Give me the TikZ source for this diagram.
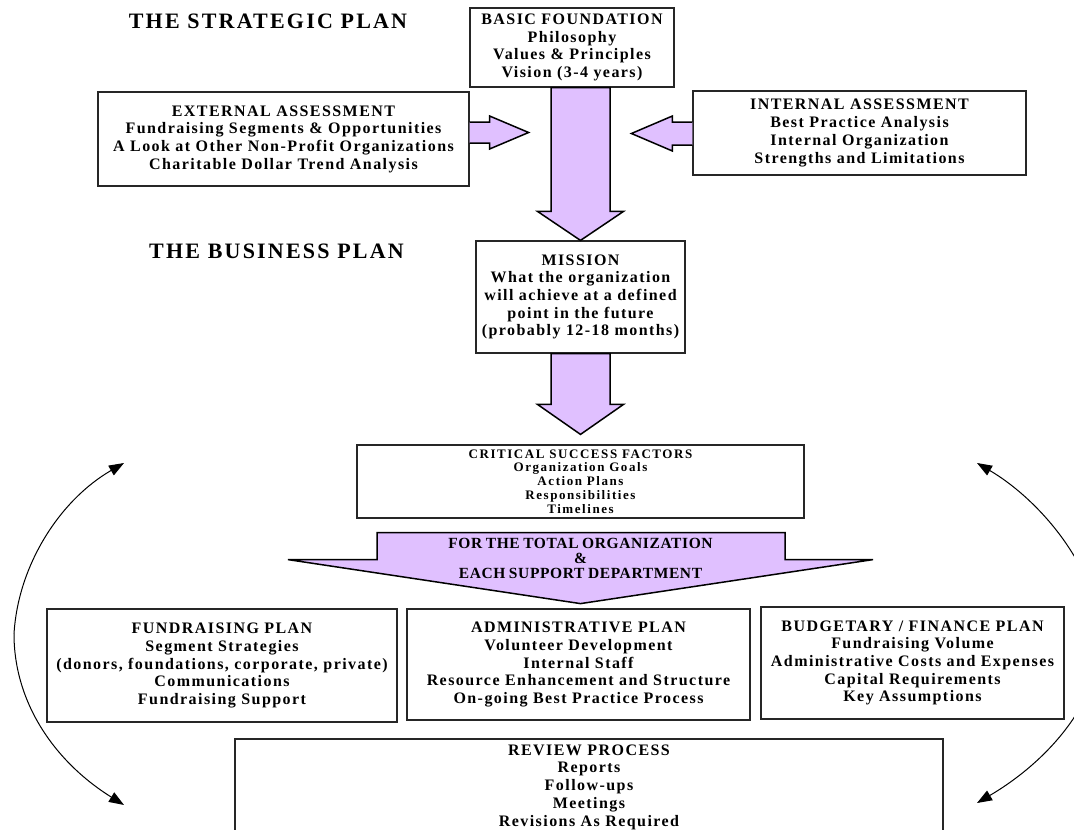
\documentclass[tikz,border=0pt]{standalone}
\usepackage{fontspec}
\setmainfont{Liberation Serif}
\newfontfamily\titlefont{Liberation Serif}[LetterSpace=10]
\newfontfamily\bodyfont{Liberation Serif}[LetterSpace=9]
\newfontfamily\csffont{Liberation Serif}[LetterSpace=12]
\newfontfamily\wafont{Liberation Serif}[LetterSpace=4]
\newcommand\wasetup{\wafont\bfseries\fontsize{15.5}{15}\selectfont\spaceskip 3.5pt\relax}
\usetikzlibrary{arrows.meta,calc}
\definecolor{lav}{RGB}{224,192,255}
\tikzset{
  box/.style={draw=black!85, line width=1.2pt, fill=white, inner sep=0pt, align=center,
    font=\bodyfont\bfseries\fontsize{16}{17.7}\selectfont},
  csfbox/.style={box, font=\csffont\bfseries\fontsize{13}{13.8}\selectfont},
  ttl/.style={inner sep=0pt, font=\titlefont\bfseries\fontsize{22}{24}\selectfont},
  watxt/.style={inner sep=0pt, align=center, font=\wasetup},
  barrow/.style={draw=black, fill=lav, line width=1.5pt, line join=miter},
  cyc/.style={line width=1pt, {Triangle[length=15pt,width=11pt]}-{Triangle[length=15pt,width=11pt]}},
}
\begin{document}
\begin{tikzpicture}[x=1pt,y=-1pt]
\path[use as bounding box, clip] (0,0) rectangle (1074,830);

% titles
\node[ttl] (t1) at (268,21.5) {THE STRATEGIC PLAN};
\node[ttl] (t2) at (276.5,251) {THE BUSINESS PLAN};

% boxes
\node[box, minimum width=204pt, minimum height=79pt] (bf) at (572,47.5)
  {BASIC FOUNDATION\\Philosophy\\Values \& Principles\\Vision (3-4 years)};
\node[box, minimum width=371pt, minimum height=94pt] (ext) at (283.5,139)
  {EXTERNAL ASSESSMENT\\Fundraising Segments \& Opportunities\\A Look at Other Non-Profit Organizations\\Charitable Dollar Trend Analysis};
\node[box, minimum width=333pt, minimum height=84pt] (int) at (859.5,133)
  {INTERNAL ASSESSMENT\\Best Practice Analysis\\Internal Organization\\Strengths and Limitations};
\node[box, minimum width=209pt, minimum height=112pt] (mission) at (580.5,297)
  {MISSION\\What the organization\\will achieve at a defined\\point in the future\\(probably 12-18 months)};
\node[csfbox, minimum width=447pt, minimum height=73pt] (csf) at (580.5,481.5)
  {CRITICAL SUCCESS FACTORS\\Organization Goals\\Action Plans\\Responsibilities\\Timelines};
\node[box, minimum width=350pt, minimum height=113pt] (fund) at (222,665.5)
  {FUNDRAISING PLAN\\Segment Strategies\\(donors, foundations, corporate, private)\\Communications\\Fundraising Support};
\node[box, minimum width=343pt, minimum height=111pt] (admin) at (578.5,664.5)
  {ADMINISTRATIVE PLAN\\Volunteer Development\\Internal Staff\\Resource Enhancement and Structure\\On-going Best Practice Process};
\node[box, minimum width=303pt, minimum height=112pt] (budget) at (912.5,663)
  {BUDGETARY / FINANCE PLAN\\Fundraising Volume\\Administrative Costs and Expenses\\Capital Requirements\\Key Assumptions};
\node[box, minimum width=708pt, minimum height=96pt] (review) at (589,787)
  {REVIEW PROCESS\\Reports\\Follow-ups\\Meetings\\Revisions As Required};

% central arrow: foundation -> mission
\coordinate (c1a) at ($(mission.north)+(-29.5,0)$);
\coordinate (c1b) at ($(mission.north)+(29.5,0)$);
\draw[barrow] (c1a |- bf.south) -- ($(mission.north)+(-29.5,-29)$) -- ($(mission.north)+(-43,-29)$)
  -- (mission.north) -- ($(mission.north)+(43,-29)$) -- ($(mission.north)+(29.5,-29)$)
  -- (c1b |- bf.south) -- cycle;

% external -> center
\draw[barrow] ($(ext.east)+(0,-17)$) -- ($(ext.east)+(20,-17)$) -- ($(ext.east)+(20,-23)$)
  -- ($(ext.east)+(59,-6.5)$) -- ($(ext.east)+(20,10)$) -- ($(ext.east)+(20,4)$)
  -- ($(ext.east)+(0,4)$);

% internal -> center
\draw[barrow] ($(int.west)+(0,-11)$) -- ($(int.west)+(-20,-11)$) -- ($(int.west)+(-20,-17)$)
  -- ($(int.west)+(-61,0.5)$) -- ($(int.west)+(-20,18)$) -- ($(int.west)+(-20,12)$)
  -- ($(int.west)+(0,12)$);

% mission -> critical success factors
\coordinate (c2a) at ($(csf.north)+(-29.5,0)$);
\coordinate (c2b) at ($(csf.north)+(29.5,0)$);
\draw[barrow] (c2a |- mission.south) -- ($(csf.north)+(-29.5,-40)$) -- ($(csf.north)+(-43,-40)$)
  -- ($(csf.north)+(0,-10)$) -- ($(csf.north)+(43,-40)$) -- ($(csf.north)+(29.5,-40)$)
  -- (c2b |- mission.south) -- cycle;

% wide arrow
\draw[barrow] ($(csf.south)+(-203.5,14)$) -- ($(csf.south)+(204.5,14)$) -- ($(csf.south)+(204.5,41)$)
  -- ($(csf.south)+(292.5,41)$) -- ($(csf.south)+(0,85)$) -- ($(csf.south)+(-292.5,41)$)
  -- ($(csf.south)+(-203.5,41)$) -- cycle;
\node[watxt] (wa) at ($(csf.south)+(0,40)$) {FOR THE TOTAL ORGANIZATION\\{\&}\\EACH SUPPORT DEPARTMENT};

% cycle arrows
\coordinate (lt) at (124,463);
\coordinate (lb) at (124,805);
\coordinate (rt) at (977,463);
\coordinate (rb) at (977,803);
\draw[cyc] (lt) .. controls (60,500) and (18,565) .. (14,634) .. controls (14,703) and (55,762) .. (lb);
\draw[cyc] (rt) .. controls (1040,500) and (1100,570) .. (1100,640) .. controls (1100,700) and (1050,760) .. (rb);
\end{tikzpicture}
\end{document}
